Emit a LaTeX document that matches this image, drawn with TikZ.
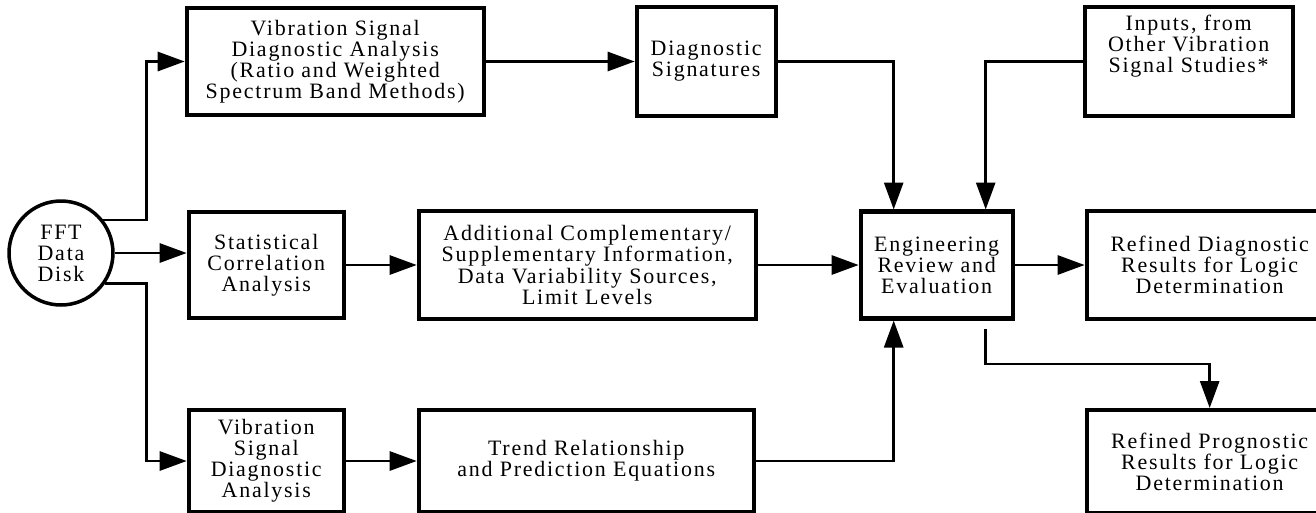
\documentclass[tikz,border=0pt]{standalone}
\usepackage{fontspec}
\setmainfont{Liberation Serif}[LetterSpace=8]
\usepackage{tikz}
\usetikzlibrary{arrows.meta,calc,positioning}

\begin{document}
\begin{tikzpicture}[x=0.02cm, y=-0.02cm,
  blk/.style={draw, line width=2.3pt, align=center, inner sep=2pt, font=\fontsize{12.5}{12}\selectfont},
  arr/.style={-{Triangle[length=0.54cm, width=0.38cm]}, line width=1.6pt}]
  \useasboundingbox (0,0) rectangle (1316,512);
  \clip (0,0) rectangle (1316,512);

  % data source
  \node[blk, circle, line width=2pt, minimum size=2.08cm, inner sep=0pt] (disk) at (61,253) {FFT\\Data\\Disk};

  % middle row
  \node[blk, minimum width=3.1cm, minimum height=2.12cm, right=1.44cm of disk, yshift=-0.24cm] (stat) {Statistical\\Correlation\\Analysis};
  \node[blk, minimum width=6.74cm, minimum height=2.16cm, right=1.42cm of stat] (add) {Additional Complementary/\\Supplementary Information,\\Data Variability Sources,\\Limit Levels};
  \node[blk, minimum width=3.04cm, minimum height=2.14cm, right=2.02cm of add] (eng) {Engineering\\Review and\\Evaluation};
  \node[blk, minimum width=4.92cm, minimum height=2.16cm, right=1.4cm of eng] (rdiag) {Refined Diagnostic\\Results for Logic\\Determination};

  % top row
  \node[blk, minimum width=5.94cm, minimum height=2.14cm, above=1.86cm of stat.north west, anchor=south west, xshift=-0.04cm] (vsa) {Vibration Signal\\Diagnostic Analysis\\(Ratio and Weighted\\Spectrum Band Methods)};
  \node[blk, minimum width=2.78cm, minimum height=2.18cm, right=2.98cm of vsa] (sig) {Diagnostic\\Signatures};
  \node[blk, minimum width=4.16cm, minimum height=2.18cm, right=6.1cm of sig] (inp) {Inputs, from\\Other Vibration\\Signal Studies*\\[0.3cm]};

  % bottom row
  \node[blk, minimum width=3.1cm, minimum height=2.04cm, below=1.76cm of stat] (vsb) {Vibration\\Signal\\Diagnostic\\Analysis};
  \node[blk, minimum width=6.7cm, minimum height=2.04cm, right=1.42cm of vsb] (trend) {Trend Relationship\\and Prediction Equations};
  \node[blk, minimum width=4.92cm, minimum height=2.06cm, below=1.74cm of rdiag] (rprog) {Refined Prognostic\\Results for Logic\\Determination};

  % connectors
  \draw[arr] (disk.38) -| ($(vsa.west)+(-38,0)$) -- (vsa.west);
  \draw[arr] (disk.east) -- (disk.east -| stat.west);
  \draw[arr] (disk.-35) -| ($(vsb.west)+(-40,0)$) -- (vsb.west);
  \draw[arr] (vsa) -- (sig);
  \draw[arr] (stat) -- (add);
  \draw[arr] (vsb) -- (trend);
  \draw[arr] (sig.east) -| ($(eng.north)+(-43,0)$);
  \draw[arr] (inp.west) -| ($(eng.north)+(49,0)$);
  \draw[arr] (add) -- (eng);
  \draw[arr] (trend.east) -| ($(eng.south)+(-43,0)$);
  \draw[arr] (eng) -- (rdiag);
  \draw[arr] ($(eng.south)+(49,8)$) |- ($(rprog.north)+(0,-44)$) -- (rprog.north);
\end{tikzpicture}
\end{document}
